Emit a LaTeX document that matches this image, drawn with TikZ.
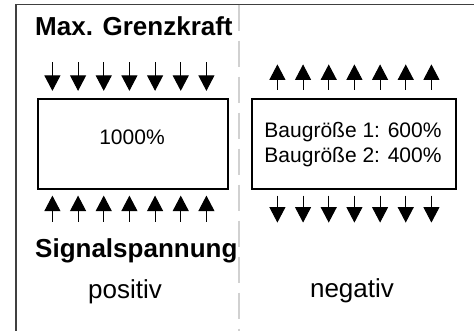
\documentclass[tikz,border=0pt]{standalone}
\usepackage{fontspec}
\setmainfont{Liberation Sans}
\usepackage{tikz}
\usetikzlibrary{arrows.meta,calc}
\tikzstyle{frame} = [draw=black!75, line width=1.3pt]
\tikzstyle{divider} = [draw=black!18, line width=1.5pt, dash pattern=on 26pt off 10pt]
\tikzstyle{box} = [draw, rectangle, line width=1.2pt, inner sep=0pt]
\tikzstyle{force} = [draw, line width=1pt, -{Triangle[width=16pt,length=15.5pt]}]
\tikzstyle{head} = [font=\fontsize{26}{30}\selectfont\bfseries, inner sep=0pt]
\tikzstyle{side} = [font=\fontsize{26}{30}\selectfont, inner sep=0pt]
\tikzstyle{value} = [font=\fontsize{21}{25}\selectfont, inner sep=0pt, align=center]

\begin{document}
\begin{tikzpicture}[x=1pt, y=1pt]
        \useasboundingbox (0,0) rectangle (474,331);
        \draw[frame] (16,0) -- (16,326.3) -- (474,326.3);
        \coordinate (dtop) at (239,326.3);
        \coordinate (dbot) at (239,0);
        \path[divider] (dtop) -- (dbot);
        \node[box, minimum width=190pt, minimum height=90pt] (lbox) at (133,187) {};
        \node[box, minimum width=204pt, minimum height=90pt] (rbox) at (354,187) {};
        \node[value, anchor=base] (lval) at (132,186) {1000\%};
        \node[value, anchor=base] (rval1) at (353,193) {Baugröße 1: 600\%};
        \node[value, anchor=base] (rval2) at (353,168) {Baugröße 2: 400\%};
        \node[head, anchor=base west] (grenz) at (35,295) {Max. Grenzkraft};
        \node[head, anchor=base west] (signal) at (35,73) {Signalspannung};
        \node[side, anchor=base] (pos) at (125,32) {positiv};
        \node[side, anchor=base] (neg) at (352,33) {negativ};
        % Kraftpfeile
        \foreach \i in {0,...,6} {
            \path[force] ($(lbox.north west)+(15+\i*25.67,36)$) -- ($(lbox.north west)+(15+\i*25.67,7.5)$);
            \path[force] ($(lbox.south west)+(15+\i*25.67,-32)$) -- ($(lbox.south west)+(15+\i*25.67,-6)$);
            \path[force] ($(rbox.north west)+(26+\i*25.67,8.5)$) -- ($(rbox.north west)+(26+\i*25.67,34)$);
            \path[force] ($(rbox.south west)+(26+\i*25.67,-6)$) -- ($(rbox.south west)+(26+\i*25.67,-33)$);
        }
    \end{tikzpicture}
\end{document}
